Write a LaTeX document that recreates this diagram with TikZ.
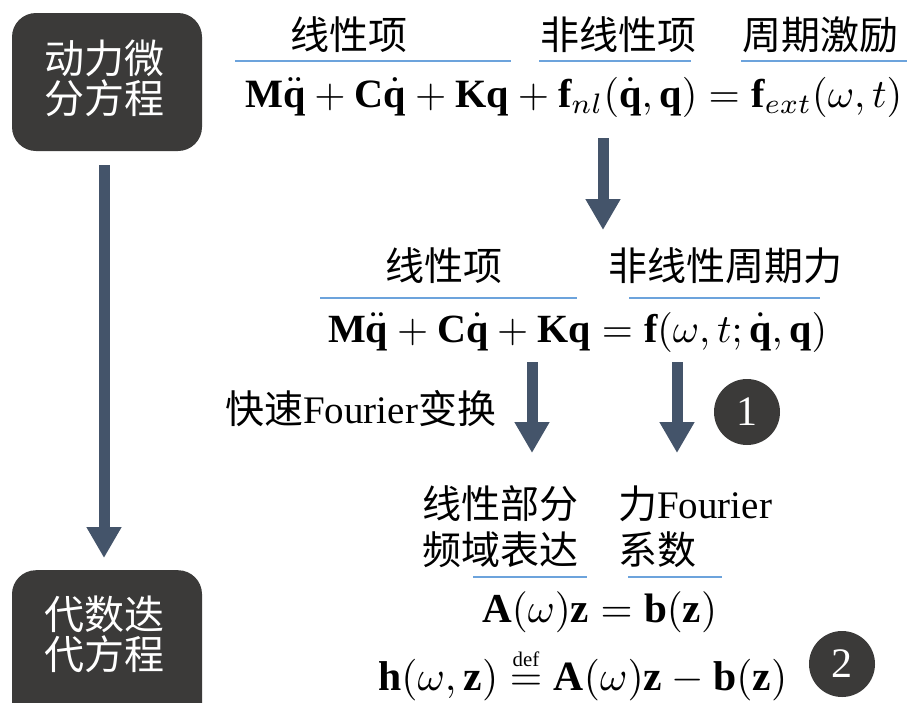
\documentclass[tikz,border=0pt]{standalone}
\usepackage{amsmath}
\usepackage{graphicx}
\usepackage{fontspec}
\setmainfont{Liberation Serif}
\newfontfamily\cjkfont{Noto Sans CJK SC}
\usetikzlibrary{arrows.meta}
\definecolor{boxdark}{RGB}{59,58,57}
\definecolor{arrowcol}{RGB}{68,84,106}
\definecolor{lineblue}{RGB}{108,163,220}
\newcommand{\zhtxt}[1]{{\cjkfont #1}}
\tikzset{
  darkbox/.style={fill=boxdark, rounded corners=24pt, minimum width=190pt, inner sep=0pt},
  boxtext/.style={text=white, font=\fontsize{40}{40}\selectfont\cjkfont, align=center, inner sep=0pt},
  lbl/.style={font=\fontsize{39}{46}\selectfont, inner sep=0pt, anchor=base},
  lblw/.style={lbl, anchor=base west},
  eqn/.style={inner sep=0pt, anchor=base west, font=\normalsize},
  bigarrow/.style={draw=arrowcol, line width=11pt, -{Triangle[width=33pt,length=31pt]}},
  uline/.style={draw=lineblue, line width=2pt},
  numcirc/.style={circle, fill=boxdark, minimum size=66pt, inner sep=0pt, text=white, font=\fontsize{42}{42}\selectfont},
}
\begin{document}
\begin{tikzpicture}[x=1pt,y=-1pt]
\useasboundingbox (0,0) rectangle (907,702);
% left boxes
\node[darkbox, minimum height=138pt] (dyn) at (107,82) {};
\node[boxtext] (dyntxt) at (104,78) {动力微\\分方程};
\begin{scope}
  \clip (0,0) rectangle (907,702);
  \node[darkbox, minimum height=170pt, anchor=north] (alg) at (107,570) {};
\end{scope}
\node[boxtext] (algtxt) at (104,634) {代数迭\\代方程};
\draw[bigarrow] ([xshift=-3pt,yshift=-14pt]dyn.south) -- ([xshift=-3pt,yshift=12pt]alg.north);

% top block
\node[lbl] (t1) at (349,49) {\zhtxt{线性项}};
\node[lbl] (t2) at (618,49) {\zhtxt{非线性项}};
\node[lbl] (t3) at (820,49) {\zhtxt{周期激励}};
\draw[uline] (235,61) -- (511,61);
\draw[uline] (539,61) -- (691,61);
\draw[uline] (741,61) -- (907,61);
\node[eqn] (eq1) at (245,107) {\resizebox{657pt}{!}{$\mathbf{M}\ddot{\mathbf{q}}+\mathbf{C}\dot{\mathbf{q}}+\mathbf{K}\mathbf{q}+\mathbf{f}_{nl}(\dot{\mathbf{q}},\mathbf{q})=\mathbf{f}_{ext}(\omega,t)$}};

\coordinate (a1s) at (603,138);
\coordinate (a1e) at (603,230);
\draw[bigarrow] (a1s) -- (a1e);

% middle block
\node[lbl] (m1) at (444,280) {\zhtxt{线性项}};
\node[lbl] (m2) at (725,280) {\zhtxt{非线性周期力}};
\draw[uline] (320,298) -- (577,298);
\draw[uline] (629,298) -- (820,298);
\node[eqn] (eq2) at (328,342) {\resizebox{499pt}{!}{$\mathbf{M}\ddot{\mathbf{q}}+\mathbf{C}\dot{\mathbf{q}}+\mathbf{K}\mathbf{q}=\mathbf{f}(\omega,t;\dot{\mathbf{q}},\mathbf{q})$}};

\node[lblw] (fft) at (225,423) {\zhtxt{快速}Fourier\zhtxt{变换}};
\coordinate (a2s) at (532,362);
\coordinate (a2e) at (532,453);
\coordinate (a3s) at (677,362);
\coordinate (a3e) at (677,453);
\draw[bigarrow] (a2s) -- (a2e);
\draw[bigarrow] (a3s) -- (a3e);
\node[numcirc] (c1) at (747,412) {1};

% lower block
\node[lblw] (l1a) at (422,518) {\zhtxt{线性部分}};
\node[lblw] (l1b) at (422,564) {\zhtxt{频域表达}};
\node[lblw] (l2a) at (618,518) {\zhtxt{力}Fourier};
\node[lblw] (l2b) at (618,564) {\zhtxt{系数}};
\draw[uline] (473,577) -- (587,577);
\draw[uline] (628,577) -- (722,577);
\node[eqn] (eq3) at (482,622) {\resizebox{235pt}{!}{$\mathbf{A}(\omega)\mathbf{z}=\mathbf{b}(\mathbf{z})$}};
\node[eqn] (eq4) at (378,690) {\resizebox{409pt}{!}{$\mathbf{h}(\omega,\mathbf{z})\stackrel{\scriptscriptstyle\mathrm{def}}{=}\mathbf{A}(\omega)\mathbf{z}-\mathbf{b}(\mathbf{z})$}};
\node[numcirc] (c2) at (842,664) {2};
\end{tikzpicture}
\end{document}
